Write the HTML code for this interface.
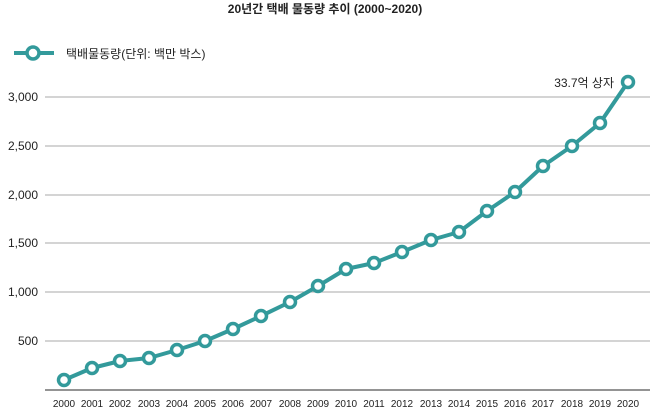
<!DOCTYPE html>
<html><head><meta charset="utf-8"><style>
body{margin:0;background:#fff}
svg text{font-family:"Liberation Sans","Noto Sans CJK KR",sans-serif;fill:#222}
</style></head><body>
<svg width="650" height="411" xmlns="http://www.w3.org/2000/svg">
<text x="325" y="13" font-size="12" font-weight="bold" text-anchor="middle">20년간 택배 물동량 추이 (2000~2020)</text>
<line x1="14" y1="53" x2="54" y2="53" stroke="#339a9b" stroke-width="4"/>
<circle cx="33" cy="53" r="6" fill="#fff" stroke="#339a9b" stroke-width="3.5"/>
<text x="66" y="58" font-size="12">택배물동량(단위: 백만 박스)</text>
<g stroke="#aaa" stroke-width="1">
<line x1="45" y1="97" x2="650" y2="97"/>
<line x1="45" y1="146" x2="650" y2="146"/>
<line x1="45" y1="195" x2="650" y2="195"/>
<line x1="45" y1="243" x2="650" y2="243"/>
<line x1="45" y1="292" x2="650" y2="292"/>
<line x1="45" y1="341" x2="650" y2="341"/>
</g>
<line x1="45" y1="390" x2="650" y2="390" stroke="#555" stroke-width="1.2"/>
<g font-size="12" text-anchor="end">
<text x="38" y="101">3,000</text><text x="38" y="150">2,500</text><text x="38" y="199">2,000</text>
<text x="38" y="247">1,500</text><text x="38" y="296">1,000</text><text x="38" y="345">500</text>
</g>
<g font-size="10" text-anchor="middle">
<text x="64" y="407">2000</text><text x="92" y="407">2001</text><text x="120" y="407">2002</text><text x="149" y="407">2003</text><text x="177" y="407">2004</text><text x="205" y="407">2005</text><text x="233" y="407">2006</text><text x="261" y="407">2007</text><text x="290" y="407">2008</text><text x="318" y="407">2009</text><text x="346" y="407">2010</text><text x="374" y="407">2011</text><text x="402" y="407">2012</text><text x="431" y="407">2013</text><text x="459" y="407">2014</text><text x="487" y="407">2015</text><text x="515" y="407">2016</text><text x="543" y="407">2017</text><text x="572" y="407">2018</text><text x="600" y="407">2019</text><text x="628" y="407">2020</text>
</g>
<polyline fill="none" stroke="#339a9b" stroke-width="4" stroke-linejoin="round" points="64,380 92,368 120,361 149,358 177,350 205,341 233,329 261,316 290,302 318,286 346,269 374,263 402,252 431,240 459,232 487,211 515,192 543,166 572,146 600,123 628,82"/>
<g fill="#fff" stroke="#339a9b" stroke-width="3.5">
<circle cx="64" cy="380" r="5.5"/><circle cx="92" cy="368" r="5.5"/><circle cx="120" cy="361" r="5.5"/><circle cx="149" cy="358" r="5.5"/><circle cx="177" cy="350" r="5.5"/><circle cx="205" cy="341" r="5.5"/><circle cx="233" cy="329" r="5.5"/><circle cx="261" cy="316" r="5.5"/><circle cx="290" cy="302" r="5.5"/><circle cx="318" cy="286" r="5.5"/><circle cx="346" cy="269" r="5.5"/><circle cx="374" cy="263" r="5.5"/><circle cx="402" cy="252" r="5.5"/><circle cx="431" cy="240" r="5.5"/><circle cx="459" cy="232" r="5.5"/><circle cx="487" cy="211" r="5.5"/><circle cx="515" cy="192" r="5.5"/><circle cx="543" cy="166" r="5.5"/><circle cx="572" cy="146" r="5.5"/><circle cx="600" cy="123" r="5.5"/><circle cx="628" cy="82" r="5.5"/>
</g>
<text x="614" y="87" font-size="12" text-anchor="end">33.7억 상자</text>
</svg>
</body></html>
